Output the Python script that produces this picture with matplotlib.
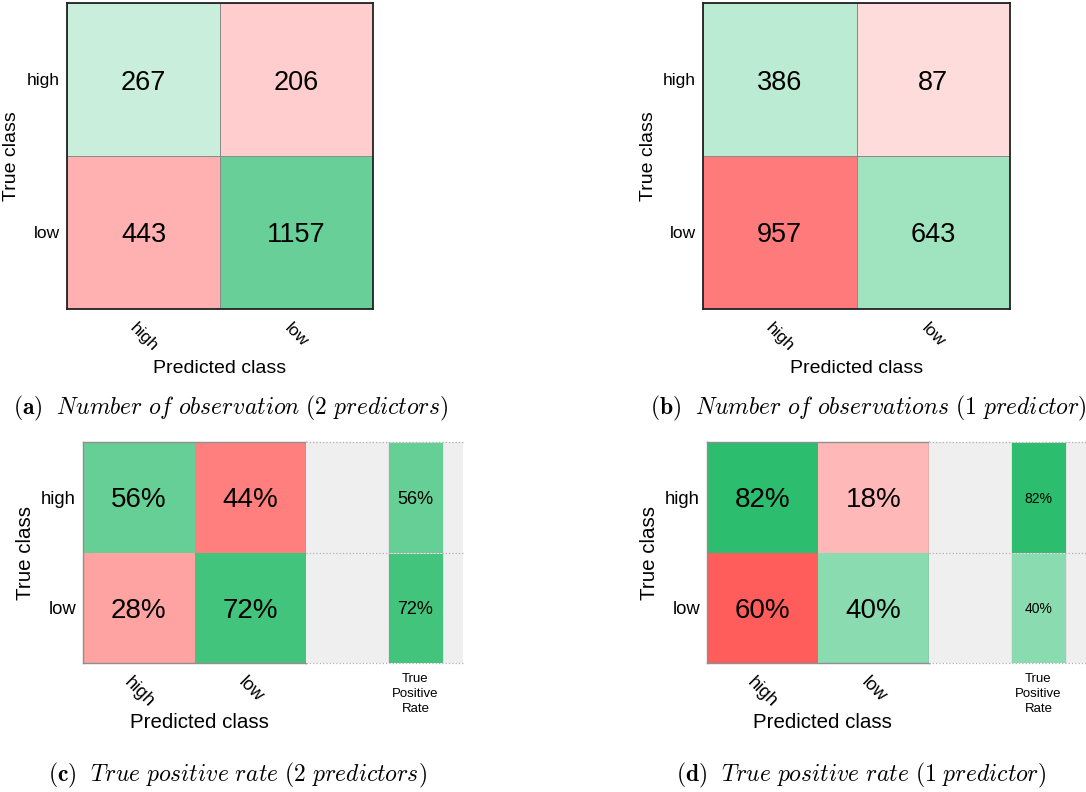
import numpy as np
import matplotlib
matplotlib.use("Agg")
import matplotlib.pyplot as plt
from matplotlib.colors import LinearSegmentedColormap

plt.rcParams['font.family'] = ['Liberation Sans', 'DejaVu Sans']
plt.rcParams['mathtext.fontset'] = 'cm'

classes = ["high", "low"]
counts_2pred = [[267, 206], [443, 1157]]
counts_1pred = [[386, 87], [957, 643]]
rate_2pred = [[56, 44], [28, 72]]
rate_1pred = [[82, 18], [60, 40]]
tpr_2pred = [56, 72]
tpr_1pred = [82, 40]

captions = [
    r"$\mathbf{(a)}\ \ \mathit{Number\ of\ observation\ (2\ predictors)}$",
    r"$\mathbf{(b)}\ \ \mathit{Number\ of\ observations\ (1\ predictor)}$",
    r"$\mathbf{(c)}\ \ \mathit{True\ positive\ rate\ (2\ predictors)}$",
    r"$\mathbf{(d)}\ \ \mathit{True\ positive\ rate\ (1\ predictor)}$",
]

# correct predictions in green, errors in red, shade by share of observations
greens = LinearSegmentedColormap.from_list("greens", [
    (0.0, "#e8f7ef"), (0.13, "#c8eedb"), (0.31, "#9fe3bf"),
    (0.56, "#66cf96"), (0.82, "#2dbd6e"), (1.0, "#24a75f")])
reds = LinearSegmentedColormap.from_list("reds", [
    (0.0, "#ffeaea"), (0.04, "#ffdcdc"), (0.10, "#ffcccc"), (0.21, "#ffb1b1"),
    (0.46, "#ff7b7b"), (0.60, "#ff5c5c"), (1.0, "#ff2020")])

W, H = 1086, 792
fig = plt.figure(figsize=(W/100, H/100), dpi=100)


def box(x0, y0, x1, y1):
    return [x0/W, 1 - y1/H, (x1 - x0)/W, (y1 - y0)/H]


def draw_matrix(ax, vals, frac, fmt, size, inner, border, tick_size):
    vals = np.array(vals)
    frac = np.array(frac, float)
    diag = np.eye(2, dtype=bool)
    lw = 0.7 if inner != 'none' else 0
    ax.pcolormesh(np.ma.masked_where(~diag, frac), cmap=greens, vmin=0, vmax=1,
                  edgecolors=inner, linewidth=lw)
    ax.pcolormesh(np.ma.masked_where(diag, frac), cmap=reds, vmin=0, vmax=1,
                  edgecolors=inner, linewidth=lw)
    ax.set_xlim(0, 2)
    ax.set_ylim(2, 0)
    for i in range(2):
        for j in range(2):
            ax.text(j + 0.5, i + 0.5, fmt % vals[i, j], ha='center',
                    va='center_baseline', fontsize=size)
    ax.set_xticks([0.5, 1.5], classes, rotation=-45, ha='center', fontsize=tick_size)
    ax.set_yticks([0.5, 1.5], classes, fontsize=tick_size)
    ax.tick_params(length=0)
    ax.tick_params(axis='x', pad=8)
    ax.tick_params(axis='y', pad=5)
    for s in ax.spines.values():
        s.set_color(border[0])
        s.set_linewidth(border[1])


def draw_tpr(ax, tpr, size):
    ax.set_facecolor('#efefef')
    frac = np.array(tpr, float)[:, None] / 100
    ax.pcolormesh([0, 1], [0, 1, 2], frac, cmap=greens, vmin=0, vmax=1,
                  edgecolors='#e2e2e2', linewidth=0.6)
    for i, v in enumerate(tpr):
        ax.text(0.5, i + 0.5, "%d%%" % v, ha='center', va='center_baseline', fontsize=size)
    ax.set_xlim(-1.49, 1.365)
    ax.set_ylim(2, 0)
    for y in [0, 1, 2]:
        ax.axhline(y, color='#b0b0b0', linestyle=':', linewidth=0.9, clip_on=False)
    for s in ax.spines.values():
        s.set_visible(False)
    ax.set_yticks([])
    ax.set_xticks([0.5], ["True\nPositive\nRate"], fontsize=9.5, linespacing=1.35)
    ax.tick_params(length=0, pad=7)


# top row: raw counts
ax_a = fig.add_axes(box(67, 3, 373, 309))
draw_matrix(ax_a, counts_2pred, np.array(counts_2pred) / np.sum(counts_2pred),
            "%d", 19.5, '#8a8a8a', ('#222222', 1.3), 12.5)
ax_b = fig.add_axes(box(703, 3, 1010, 309))
draw_matrix(ax_b, counts_1pred, np.array(counts_1pred) / np.sum(counts_1pred),
            "%d", 19.5, '#8a8a8a', ('#222222', 1.3), 12.5)

for ax, lx in [(ax_a, -0.18), (ax_b, -0.176)]:
    ax.set_ylabel("True class", fontsize=14, va='center')
    ax.yaxis.set_label_coords(lx, 0.5)
    ax.set_xlabel("Predicted class", fontsize=14, va='center')
    ax.xaxis.set_label_coords(0.5, -0.196)

# bottom row: rates with true positive rate column
ax_c = fig.add_axes(box(83, 442, 306, 663))
draw_matrix(ax_c, rate_2pred, np.array(rate_2pred) / 100, "%d%%", 20,
            'none', ('#8f8f8f', 1.0), 13.3)
ax_ct = fig.add_axes(box(306, 442, 463, 663))
draw_tpr(ax_ct, tpr_2pred, 13)

ax_d = fig.add_axes(box(707, 442, 929, 663))
draw_matrix(ax_d, rate_1pred, np.array(rate_1pred) / 100, "%d%%", 20,
            'none', ('#8f8f8f', 1.0), 13.3)
ax_dt = fig.add_axes(box(929, 442, 1086, 663))
draw_tpr(ax_dt, tpr_1pred, 10)

for ax, lx in [(ax_c, -0.256), (ax_d, -0.257)]:
    ax.set_ylabel("True class", fontsize=14.8, va='center')
    ax.yaxis.set_label_coords(lx, 0.5)
    ax.set_xlabel("Predicted class", fontsize=14.8, va='center')
    ax.xaxis.set_label_coords(0.52, -0.267)

for (cx, cy), text in zip([(231, 408), (868, 408), (237, 775), (861, 775)], captions):
    fig.text(cx / W, 1 - cy / H, text, ha='center', va='center', fontsize=17)

fig.savefig("out.png", dpi=100)
